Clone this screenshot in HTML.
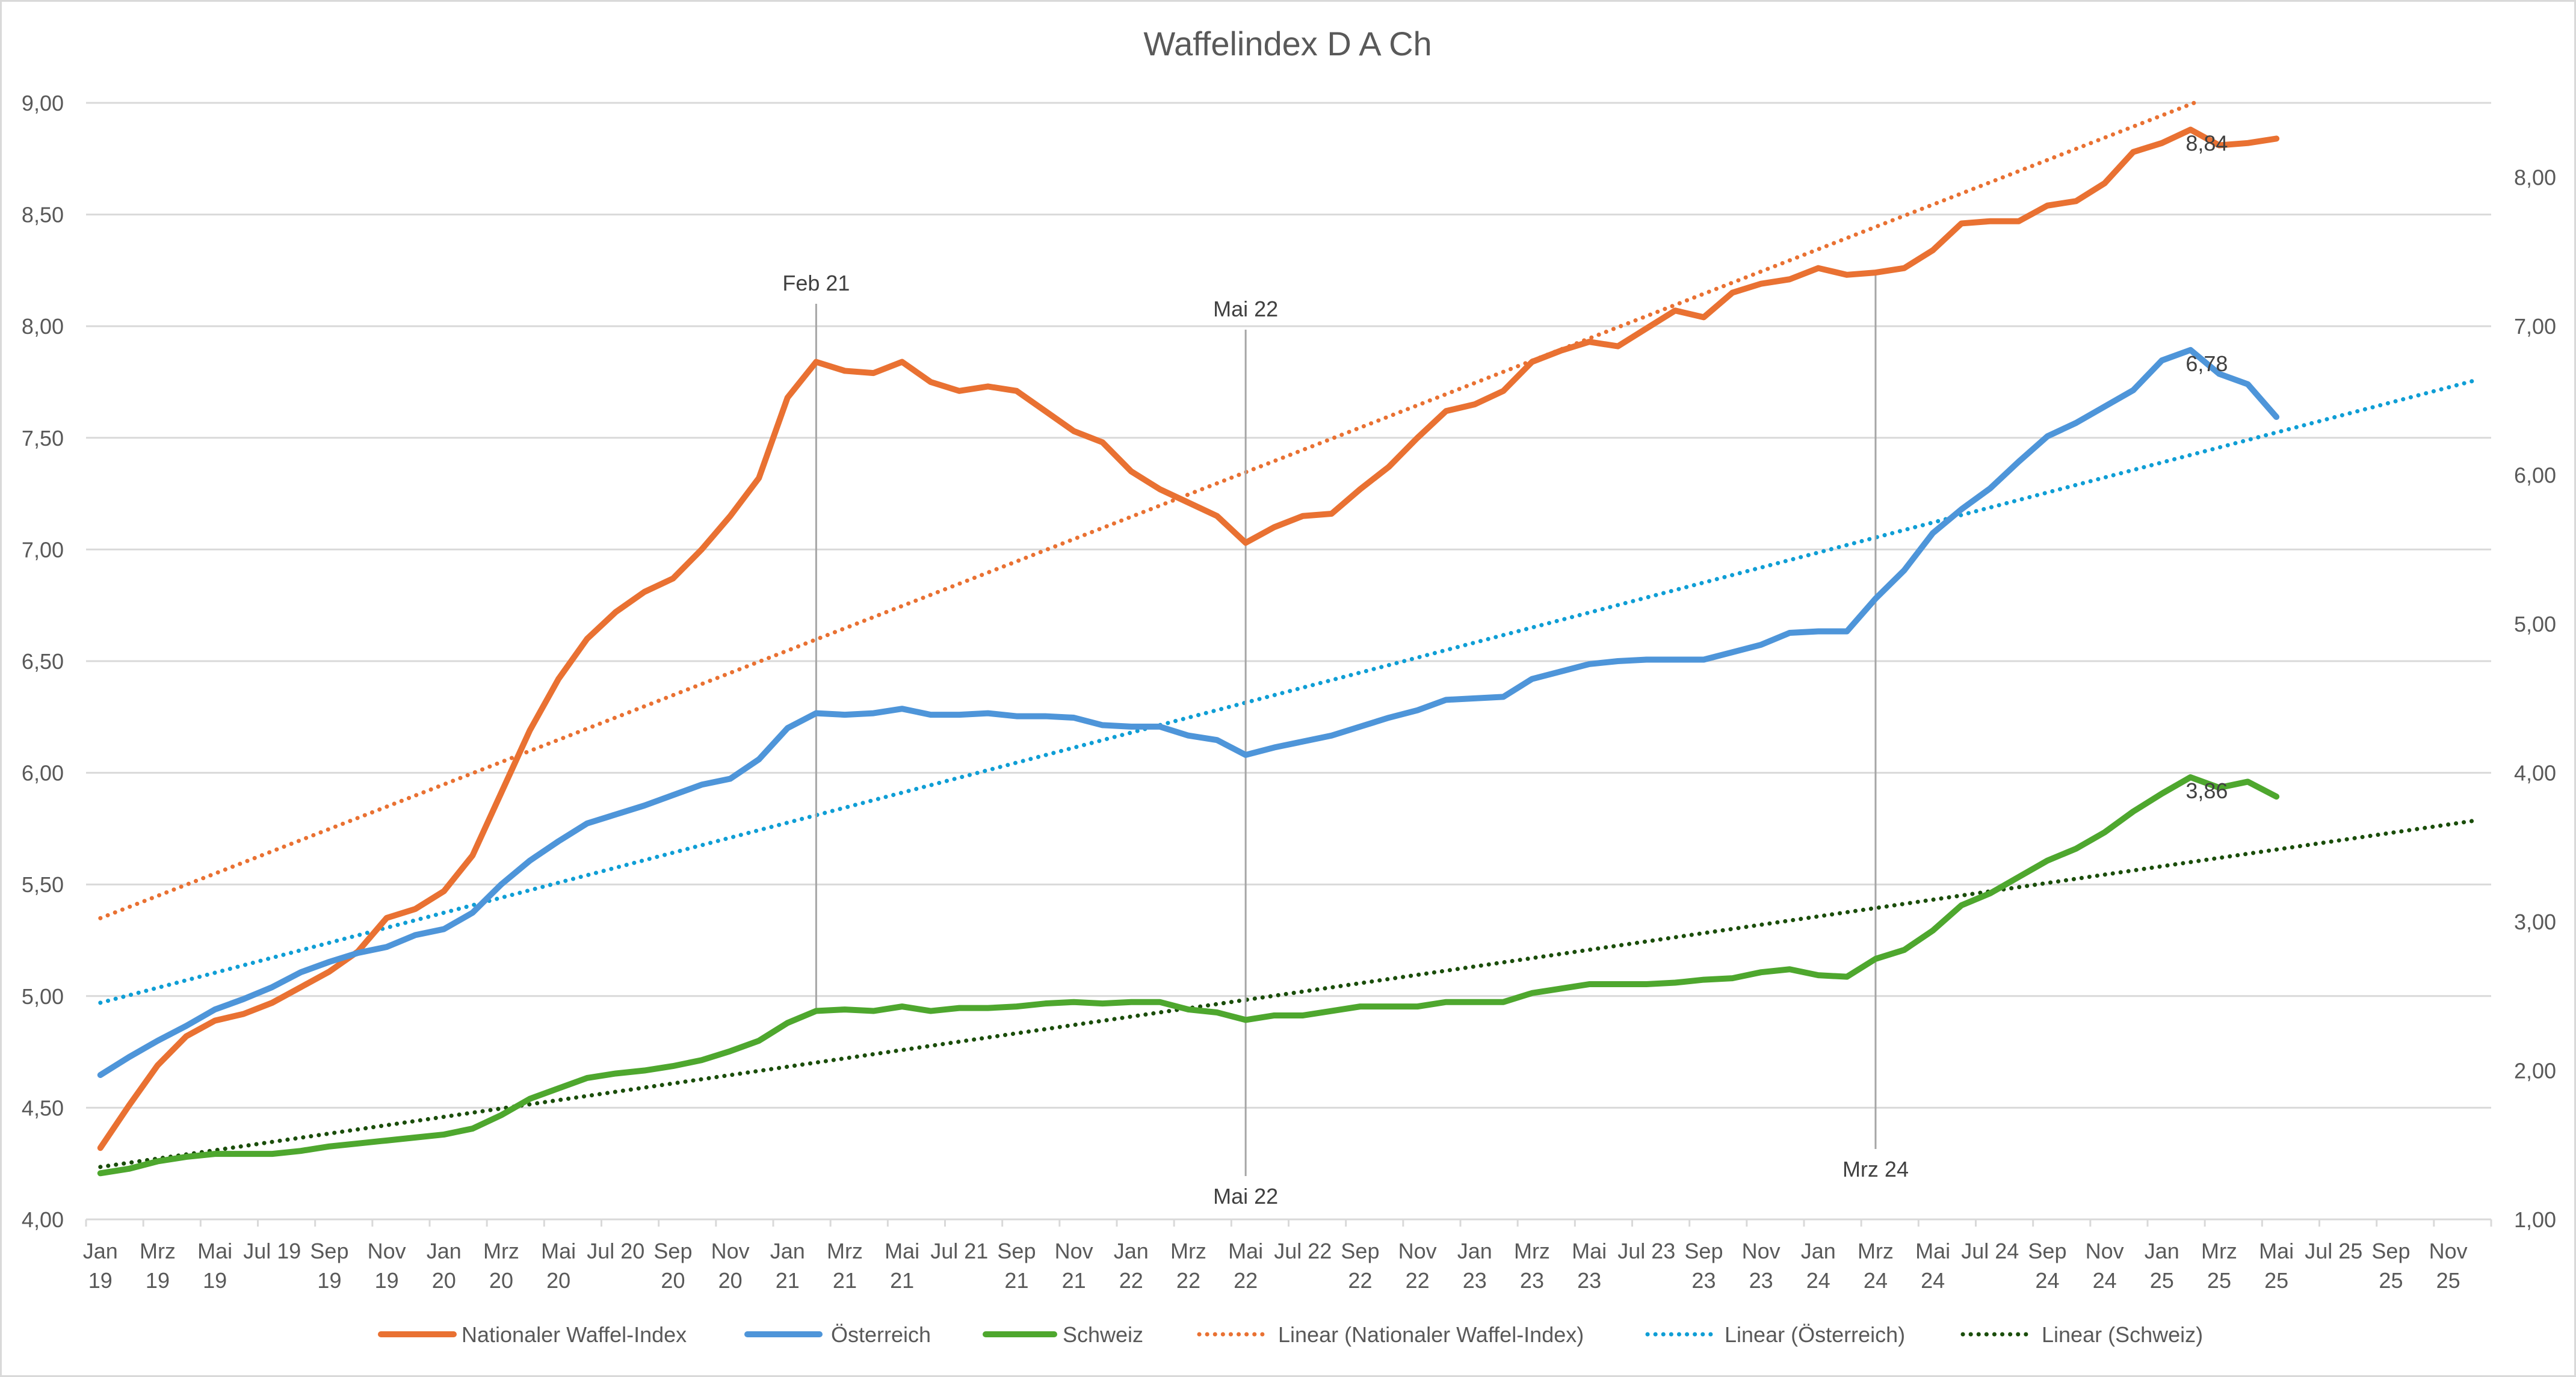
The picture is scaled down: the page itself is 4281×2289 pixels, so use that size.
<!DOCTYPE html>
<html><head><meta charset="utf-8"><style>
html,body{margin:0;padding:0;background:#fff}
svg{display:block;font-family:"Liberation Sans",sans-serif}
</style></head><body>
<svg id="chart" width="4281" height="2289" viewBox="0 0 4281 2289" xmlns="http://www.w3.org/2000/svg">
<rect x="1.5" y="1.5" width="4278" height="2286" fill="#fff" stroke="#d9d9d9" stroke-width="3"/>
<text x="2140" y="92" text-anchor="middle" font-size="56" fill="#595959">Waffelindex D A Ch</text>
<g id="grid"></g><g id="axes"></g><g id="trends"></g><g id="annot"></g><g id="series"></g><g id="labels"></g><g id="legend"></g>
</svg>
<script>
const nationalValues=[4.32,4.51,4.69,4.82,4.89,4.92,4.97,5.04,5.11,5.20,5.35,5.39,5.47,5.63,5.91,6.19,6.42,6.60,6.72,6.81,6.87,7.00,7.15,7.32,7.68,7.84,7.80,7.79,7.84,7.75,7.71,7.73,7.71,7.62,7.53,7.48,7.35,7.27,7.21,7.15,7.03,7.10,7.15,7.16,7.27,7.37,7.50,7.62,7.65,7.71,7.84,7.89,7.93,7.91,7.99,8.07,8.04,8.15,8.19,8.21,8.26,8.23,8.24,8.26,8.34,8.46,8.47,8.47,8.54,8.56,8.64,8.78,8.82,8.88,8.81,8.82,8.84];
const austriaValues=[1.97,2.09,2.20,2.30,2.41,2.48,2.56,2.66,2.73,2.79,2.83,2.91,2.95,3.06,3.25,3.41,3.54,3.66,3.72,3.78,3.85,3.92,3.96,4.09,4.30,4.40,4.39,4.40,4.43,4.39,4.39,4.40,4.38,4.38,4.37,4.32,4.31,4.31,4.25,4.22,4.12,4.17,4.21,4.25,4.31,4.37,4.42,4.49,4.50,4.51,4.63,4.68,4.73,4.75,4.76,4.76,4.76,4.81,4.86,4.94,4.95,4.95,5.17,5.36,5.61,5.77,5.91,6.09,6.26,6.35,6.46,6.57,6.77,6.84,6.68,6.61,6.39];
const swissValues=[1.31,1.34,1.39,1.42,1.44,1.44,1.44,1.46,1.49,1.51,1.53,1.55,1.57,1.61,1.70,1.81,1.88,1.95,1.98,2.00,2.03,2.07,2.13,2.20,2.32,2.40,2.41,2.40,2.43,2.40,2.42,2.42,2.43,2.45,2.46,2.45,2.46,2.46,2.41,2.39,2.34,2.37,2.37,2.40,2.43,2.43,2.43,2.46,2.46,2.46,2.52,2.55,2.58,2.58,2.58,2.59,2.61,2.62,2.66,2.68,2.64,2.63,2.75,2.81,2.94,3.11,3.19,3.30,3.41,3.49,3.60,3.74,3.86,3.97,3.90,3.94,3.84];
const monthNames=["Jan","Feb","Mrz","Apr","Mai","Jun","Jul","Aug","Sep","Okt","Nov","Dez"];
const leftTicks=[4,4.5,5,5.5,6,6.5,7,7.5,8,8.5,9];
const rightTicks=[1,2,3,4,5,6,7,8];
const annotations=[{i:25,label:"Feb 21",top:true},{i:40,label:"Mai 22",top:true,bottom:true},{i:62,label:"Mrz 24",bottom:true}];
const dataLabels=[{s:"n",i:73,text:"8,84"},{s:"a",i:73,text:"6,78"},{s:"s",i:73,text:"3,86"}];
const NS="http://www.w3.org/2000/svg";
const X0=143,X1=4140,NM=84,MW=(X1-X0)/NM,YB=2027,YT=171;
const xi=i=>X0+(i+0.5)*MW;
const yL=v=>YB-(v-4)/5*(YB-YT);
const yR=v=>YB-(v-1)/7.5*(YB-YT);
function mk(tag,parent,attrs,txt){const e=document.createElementNS(NS,tag);for(const k in attrs)e.setAttribute(k,attrs[k]);if(txt!==undefined)e.textContent=txt;document.getElementById(parent).appendChild(e);return e;}
function fmt(v){return v.toFixed(2).replace(".",",");}
leftTicks.forEach(v=>{
  const g=mk("line","grid",{x1:X0,x2:X1,y1:yL(v),y2:yL(v),stroke:"#d9d9d9","stroke-width":3});
  
  
  const t=mk("text","axes",{x:106,y:yL(v)+13,"text-anchor":"end","font-size":36,fill:"#595959"},fmt(v));
  
  
});
rightTicks.forEach(v=>{
  const t=mk("text","axes",{x:4178,y:yR(v)+13,"font-size":36,fill:"#595959"},fmt(v));
  
  
});
for(let k=0;k<=NM;k+=2){
  const x=X0+k*MW;
  const tk=mk("line","axes",{x1:x,x2:x,y1:YB,y2:YB+12,stroke:"#d9d9d9","stroke-width":3});
  
  
  if(k<NM){
    const m=monthNames[k%12],yr=String(19+Math.floor(k/12));
    const cx=x+MW/2;
    if(m==="Jul"){
      const t=mk("text","axes",{x:cx,y:2092,"text-anchor":"middle","font-size":36,fill:"#595959"},m+" "+yr);
      
      
    } else {
      const t=mk("text","axes",{x:cx,y:2092,"text-anchor":"middle","font-size":36,fill:"#595959"},m);
      
      
      const t2=mk("text","axes",{x:cx,y:2141,"text-anchor":"middle","font-size":36,fill:"#595959"},yr);
      
      
    }
  }
}
const baseAxis=mk("line","axes",{x1:X0,x2:X1,y1:YB,y2:YB,stroke:"#d9d9d9","stroke-width":3});


function regress(vals){const n=vals.length;let sx=0,sy=0,sxx=0,sxy=0;vals.forEach((v,i)=>{sx+=i;sy+=v;sxx+=i*i;sxy+=i*v;});const b=(n*sxy-sx*sy)/(n*sxx-sx*sx);return{a:(sy-b*sx)/n,b};}
function trend(vals,ys,color,name){
  const r=regress(vals);const iEnd=83;
  let x2=xi(iEnd),y2=ys(r.a+r.b*iEnd);
  if(y2<YT){const iT=(ys===yL?9:8.5);const ii=(iT-r.a)/r.b;x2=xi(ii);y2=YT;}
  const l=mk("line","trends",{x1:xi(0),y1:ys(r.a),x2:x2,y2:y2,stroke:color,"stroke-width":7,"stroke-dasharray":"0.1 13","stroke-linecap":"round"});
  
  
}
trend(nationalValues,yL,"#E97132","trend-national");
trend(austriaValues,yR,"#0F9ED5","trend-austria");
trend(swissValues,yR,"#1a4d0a","trend-switzerland");
annotations.forEach(a=>{
  const x=xi(a.i);
  const yTop=a.top?(a.i===25?505:548):yL(nationalValues[a.i]);
  const yBot=a.bottom?(a.i===40?1955:1910):yR(swissValues[a.i]);
  const l=mk("line","annot",{x1:x,x2:x,y1:yTop,y2:yBot,stroke:"#a6a6a6","stroke-width":3});
  
  
  if(a.top){const t=mk("text","annot",{x:x,y:yTop-22,"text-anchor":"middle","font-size":36,fill:"#404040"},a.label);
    
    }
  if(a.bottom){const t=mk("text","annot",{x:x,y:yBot+46,"text-anchor":"middle","font-size":36,fill:"#404040"},a.label);
    
    }
});
function series(vals,ys,color,name){
  const p=mk("polyline","series",{points:vals.map((v,i)=>xi(i)+","+ys(v)).join(" "),fill:"none",stroke:color,"stroke-width":10,"stroke-linejoin":"round","stroke-linecap":"round"});
  
  
}
series(nationalValues,yL,"#E97132","line-national");
series(austriaValues,yR,"#4E95D9","line-austria");
series(swissValues,yR,"#4EA72E","line-switzerland");
const src={n:[nationalValues,yL],a:[austriaValues,yR],s:[swissValues,yR]};
dataLabels.forEach(d=>{
  const [vals,ys]=src[d.s];
  const t=mk("text","labels",{x:xi(d.i)+27,y:ys(vals[d.i])+35,"text-anchor":"middle","font-size":36,fill:"#404040"},d.text);
  
  
});
const legendItems=[[633,754,767,"#E97132","solid","Nationaler Waffel-Index"],[1242,1362,1381,"#4E95D9","solid","Österreich"],[1638,1752,1766,"#4EA72E","solid","Schweiz"],[1993,2110,2124,"#E97132","dot","Linear (Nationaler Waffel-Index)"],[2738,2853,2866,"#0F9ED5","dot","Linear (Österreich)"],[3262,3377,3393,"#1a4d0a","dot","Linear (Schweiz)"]];
legendItems.forEach(it=>{
  const l=mk("line","legend",it[4]==="solid"?{x1:it[0],x2:it[1],y1:2218,y2:2218,stroke:it[3],"stroke-width":10,"stroke-linecap":"round"}:{x1:it[0],x2:it[1],y1:2218,y2:2218,stroke:it[3],"stroke-width":7,"stroke-dasharray":"0.1 13","stroke-linecap":"round"});
  
  
  const t=mk("text","legend",{x:it[2],y:2231,"font-size":36,fill:"#595959"},it[5]);
  
  
});
</script>
</body></html>
